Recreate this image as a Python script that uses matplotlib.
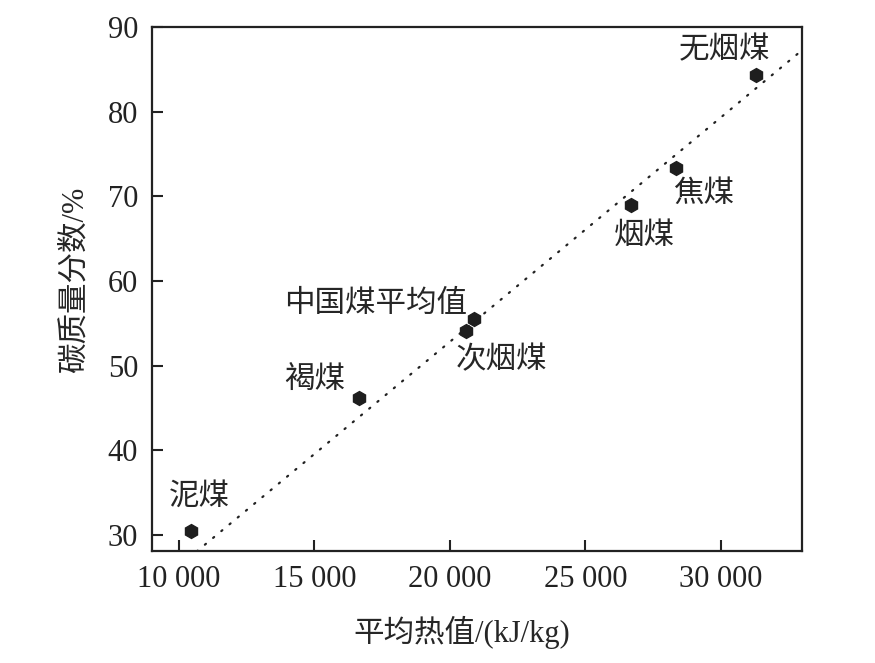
import matplotlib
matplotlib.use('Agg')
import matplotlib.pyplot as plt

plt.rcParams['font.family'] = ['Liberation Serif', 'Noto Sans CJK SC']
plt.rcParams['axes.unicode_minus'] = False

# coal types: average heating value (kJ/kg) vs carbon mass fraction (%)
names = ['泥煤', '褐煤', '次烟煤', '中国煤平均值', '烟煤', '焦煤', '无烟煤']
heat = [10450, 16650, 20590, 20880, 26690, 28350, 31290]
carbon = [30.4, 46.2, 54.1, 55.5, 69.0, 73.4, 84.4]

# label anchor points (data coords)
label_x = [10760, 15000, 21900, 17240, 27160, 29370, 30140]
label_y = [34.5, 48.3, 50.7, 57.3, 65.4, 70.3, 87.3]

# trend line endpoints
fit_x = [10650, 33000]
fit_y = [28.0, 87.3]

x_ticks = [10000, 15000, 20000, 25000, 30000]
x_ticklabels = ['10 000', '15 000', '20 000', '25 000', '30 000']
y_ticks = [30, 40, 50, 60, 70, 80, 90]

fig = plt.figure(figsize=(8.75, 6.63), dpi=100)
ax = fig.add_axes([0.1737, 0.1682, 0.9166 - 0.1737, 0.9587 - 0.1682])

ax.plot(fit_x, fit_y, color='#222222', lw=1.6, linestyle=(0, (0.6, 4.2)),
        dash_capstyle='round')
ax.plot(heat, carbon, linestyle='none', marker='h', ms=10, color='#1e1e1e')

for name, tx, ty in zip(names, label_x, label_y):
    ax.text(tx, ty, name, fontsize=22, ha='center', va='center',
            color='#262626', family=['Noto Sans CJK SC'], fontweight='light')

ax.set_xlim(9000, 33000)
ax.set_ylim(28, 90)
ax.set_xticks(x_ticks)
ax.set_xticklabels(x_ticklabels)
ax.set_yticks(y_ticks)
ax.tick_params(direction='in', length=8, width=1.5, labelsize=22,
               colors='#222222', pad=10)
for s in ax.spines.values():
    s.set_linewidth(1.6)
    s.set_color('#222222')

ax.set_xlabel('平均热值/(kJ/kg)', fontsize=22, color='#262626', va='center')
ax.set_ylabel('碳质量分数/%', fontsize=22, color='#262626', va='center')
ax.xaxis.set_label_coords(0.477, -0.154)
ax.yaxis.set_label_coords(-0.118, 0.518)

fig.savefig('out.png', dpi=100)
